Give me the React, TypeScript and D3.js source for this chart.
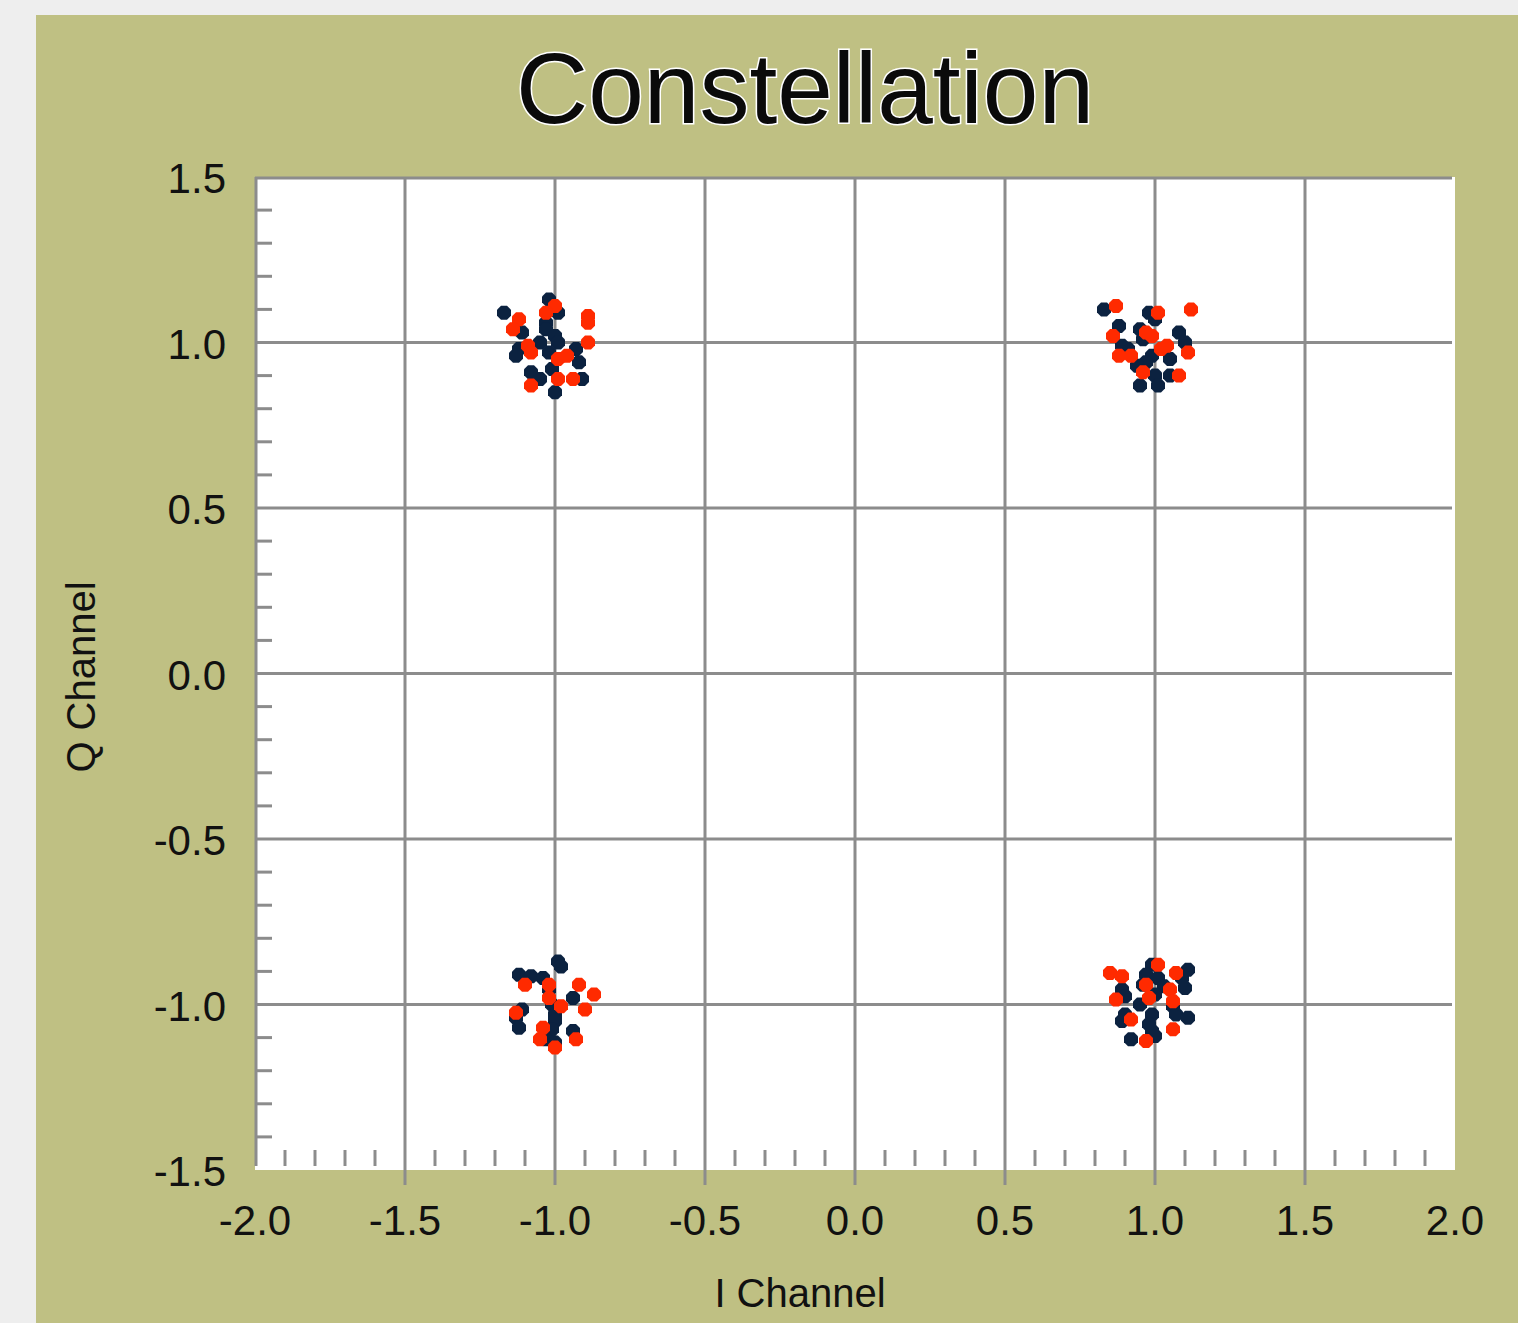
import React from "react";
import * as d3 from "d3";

// Received symbols, series A (dark)
const seriesA_I = [
  -1.17, -1.02, -0.99, -1.03, -1.03, -1.11, -1.0, -1.05, -0.99, -1.12, -1.13, -1.02, -0.93, -0.92, -1.01, -1.08, -1.05, -0.91, -1.0,
  0.83, 0.98, 1.0, 0.88, 0.95, 1.08, 0.96, 1.1, 0.89, 0.91, 0.99, 1.05, 0.97, 0.94, 1.0, 1.05, 0.95, 1.01,
  -0.99, -0.98, -1.12, -1.08, -1.04, -1.02, -0.94, -1.01, -1.11, -1.0, -1.13, -1.0, -1.12, -1.01, -0.94, -1.03, -1.0,
  0.99, 1.11, 0.97, 1.01, 1.09, 0.96, 1.03, 0.89, 1.1, 1.0, 0.9, 0.95, 1.06, 0.9, 0.99, 1.07, 1.11, 0.89, 0.98, 0.99, 0.92, 1.0,
];
const seriesA_Q = [
  1.09, 1.13, 1.09, 1.06, 1.04, 1.03, 1.02, 1.0, 1.0, 0.98, 0.96, 0.97, 0.98, 0.94, 0.92, 0.91, 0.89, 0.89, 0.85,
  1.1, 1.09, 1.07, 1.05, 1.04, 1.03, 1.01, 1.0, 0.99, 0.98, 0.96, 0.95, 0.94, 0.93, 0.9, 0.9, 0.87, 0.87,
  -0.87, -0.885, -0.91, -0.915, -0.92, -0.955, -0.98, -1.0, -1.015, -1.03, -1.04, -1.05, -1.07, -1.075, -1.08, -1.105, -1.115,
  -0.88, -0.895, -0.91, -0.92, -0.92, -0.94, -0.945, -0.955, -0.95, -0.97, -0.975, -1.0, -1.005, -1.03, -1.03, -1.03, -1.04, -1.05, -1.06, -1.08, -1.105, -1.095,
];

// Received symbols, series B (red)
const seriesB_I = [
  -1.12, -1.14, -1.0, -1.03, -0.89, -0.89, -0.89, -1.09, -1.08, -0.99, -0.96, -0.99, -0.94, -1.08,
  0.87, 1.12, 1.01, 0.86, 0.97, 0.99, 1.04, 1.02, 1.11, 0.88, 0.92, 0.96, 1.08,
  -1.1, -1.02, -0.92, -0.87, -1.02, -0.98, -0.9, -1.13, -1.04, -1.05, -0.93, -1.0,
  0.85, 0.89, 1.01, 1.07, 0.97, 1.05, 0.87, 0.98, 1.06, 0.92, 1.06, 0.97,
];
const seriesB_Q = [
  1.07, 1.04, 1.11, 1.09, 1.08, 1.06, 1.0, 0.99, 0.97, 0.95, 0.96, 0.89, 0.89, 0.87,
  1.11, 1.1, 1.09, 1.02, 1.03, 1.02, 0.99, 0.98, 0.97, 0.96, 0.96, 0.91, 0.9,
  -0.94, -0.94, -0.94, -0.97, -0.98, -1.005, -1.015, -1.025, -1.07, -1.105, -1.105, -1.13,
  -0.905, -0.915, -0.88, -0.905, -0.94, -0.955, -0.985, -0.98, -0.99, -1.045, -1.075, -1.11,
];

const xTicks = [-2.0, -1.5, -1.0, -0.5, 0.0, 0.5, 1.0, 1.5, 2.0];
const yTicks = [1.5, 1.0, 0.5, 0.0, -0.5, -1.0, -1.5];

const W = 1518;
const H = 1323;
const plot = { left: 255, right: 1455, top: 177, bottom: 1170 };
const FONT = "'Liberation Sans', Arial, sans-serif";

// rounded octagonal blob used as the point marker
const markerPath = "M-3,-7 L3,-7 L7,-3 L7,3 L3,7 L-3,7 L-7,3 L-7,-3 Z";

export default function App() {
  const x = d3.scaleLinear().domain([-2, 2]).range([plot.left, plot.right]);
  const y = d3.scaleLinear().domain([-1.5, 1.5]).range([plot.bottom, plot.top]);

  const isMinor = (v: number) => Math.abs(v * 2 - Math.round(v * 2)) > 1e-6;
  const minorX = d3.range(-19, 20).map((v) => v / 10).filter(isMinor);
  const minorY = d3.range(-14, 15).map((v) => v / 10).filter(isMinor);

  const fmt = (v: number) => d3.format(".1f")(v).replace("\u2212", "-");
  const ptsA = seriesA_I.map((v, i) => [v, seriesA_Q[i]]);
  const ptsB = seriesB_I.map((v, i) => [v, seriesB_Q[i]]);

  return (
    <div style={{ position: "absolute", left: 0, top: 0 }}>
      <svg width={W} height={H} style={{ display: "block" }}>
        <rect x={0} y={0} width={W} height={H} fill="#eeeeee" />
        <rect x={36} y={15} width={W - 36} height={H - 15} fill="#bfc083" />
        <text
          x={805}
          y={123}
          textAnchor="middle"
          fontFamily={FONT}
          fontSize={100}
          fill="#0a0a0a"
          stroke="#ffffff"
          strokeWidth={3}
          paintOrder="stroke"
        >
          Constellation
        </text>
        <rect x={plot.left} y={plot.top} width={plot.right - plot.left} height={plot.bottom - plot.top} fill="#ffffff" />
        {/* grid */}
        {xTicks.slice(1, -1).map((t) => (
          <line key={"gx" + t} x1={x(t)} x2={x(t)} y1={plot.top} y2={plot.bottom + 15} stroke="#8c8c8c" strokeWidth={3} />
        ))}
        {yTicks.slice(1, -1).map((t) => (
          <line key={"gy" + t} x1={plot.left} x2={plot.right - 3} y1={y(t)} y2={y(t)} stroke="#8c8c8c" strokeWidth={3} />
        ))}
        {/* minor ticks */}
        {minorX.map((t) => (
          <line key={"mx" + t} x1={x(t)} x2={x(t)} y1={plot.bottom - 20} y2={plot.bottom - 4} stroke="#8c8c8c" strokeWidth={3} />
        ))}
        {minorY.map((t) => (
          <line key={"my" + t} x1={plot.left} x2={plot.left + 17} y1={y(t)} y2={y(t)} stroke="#8c8c8c" strokeWidth={3} />
        ))}
        {/* frame: top and left */}
        <line x1={plot.left} x2={plot.right - 3} y1={plot.top + 1} y2={plot.top + 1} stroke="#8c8c8c" strokeWidth={3} />
        <line x1={plot.left + 1} x2={plot.left + 1} y1={plot.top} y2={plot.bottom - 4} stroke="#8c8c8c" strokeWidth={3} />
        {/* points */}
        {ptsA.map((p, i) => (
          <path key={"a" + i} d={markerPath} transform={`translate(${x(p[0])},${y(p[1])})`} fill="#0b2240" />
        ))}
        {ptsB.map((p, i) => (
          <path key={"b" + i} d={markerPath} transform={`translate(${x(p[0])},${y(p[1])})`} fill="#ff2a00" />
        ))}
        {/* tick labels */}
        {xTicks.map((t) => (
          <text key={"lx" + t} x={x(t)} y={1235} textAnchor="middle" fontFamily={FONT} fontSize={42} fill="#111">
            {fmt(t)}
          </text>
        ))}
        {yTicks.map((t) => (
          <text key={"ly" + t} x={226} y={y(t) + 16} textAnchor="end" fontFamily={FONT} fontSize={42} fill="#111">
            {fmt(t)}
          </text>
        ))}
        <text x={800} y={1307} textAnchor="middle" fontFamily={FONT} fontSize={40} fill="#111">
          I Channel
        </text>
        <text
          transform={`translate(95,${677}) rotate(-90)`}
          textAnchor="middle"
          fontFamily={FONT}
          fontSize={40}
          fill="#111"
        >
          Q Channel
        </text>
      </svg>
    </div>
  );
}
